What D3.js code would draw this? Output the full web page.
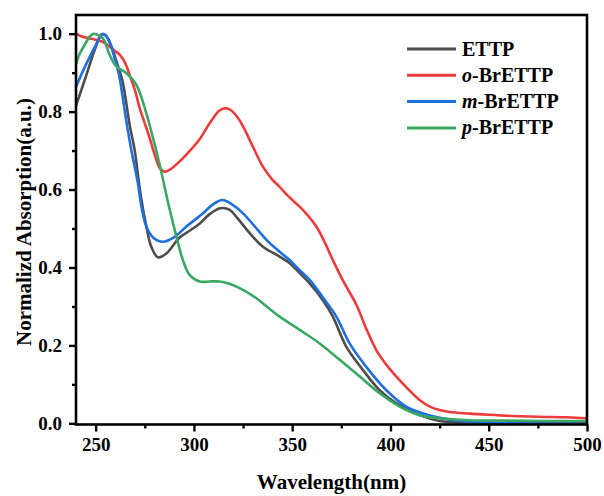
<!DOCTYPE html>
<html>
<head>
<meta charset="utf-8">
<script src="https://cdn.jsdelivr.net/npm/d3@7"></script>
<style>
  html, body { margin: 0; padding: 0; background: #fff; }
  svg { display: block; }
  text { font-family: "Liberation Serif", "Times New Roman", serif; }
</style>
</head>
<body>
<script>
// ---------- data ----------
const seriesNames = ["ETTP", "o-BrETTP", "m-BrETTP", "p-BrETTP"];
const seriesPrefix = ["", "o", "m", "p"];
const seriesRest = ["ETTP", "-BrETTP", "-BrETTP", "-BrETTP"];
const seriesColors = ["#4d4d4d", "#ec3c3c", "#1f6fdf", "#3aa865"];

const ettpWl = [240,245,250,253,255,258,260.5,263.6,265.5,267.3,269.9,271.5,273.3,275.8,278.3,281.7,286,292.7,298,303,308,313.5,318.2,321.6,328.4,335.1,343.6,348.7,353,358.9,365.6,370.7,377.5,386,394.5,403,414.8,425,440,460,480,500];
const ettpAbs = [0.815,0.89,0.965,0.998,0.996,0.968,0.93,0.88,0.825,0.766,0.70,0.638,0.573,0.505,0.453,0.426,0.436,0.477,0.495,0.513,0.537,0.552,0.548,0.530,0.488,0.453,0.428,0.411,0.39,0.359,0.316,0.274,0.197,0.137,0.085,0.051,0.021,0.006,0.002,0.001,0.0005,0.0];

const oWl = [240,243,247,250.4,254,257,260,262.2,265,267.3,270,272.4,275,277.5,280,282.6,285,288,292.7,298,303,308,313,316.2,319,322,325,330,335.1,340,343.6,348,353.8,358,362.3,366.5,370.7,376,382.6,387.5,392.8,398,403,409,414.8,420,425,430,440,450,462,475,490,500];
const oAbs = [1.0,0.993,0.988,0.984,0.978,0.967,0.955,0.946,0.925,0.894,0.855,0.809,0.77,0.732,0.69,0.655,0.646,0.652,0.672,0.70,0.73,0.77,0.803,0.809,0.803,0.787,0.762,0.71,0.659,0.625,0.607,0.583,0.556,0.533,0.505,0.465,0.419,0.365,0.305,0.245,0.188,0.15,0.12,0.088,0.060,0.043,0.034,0.029,0.025,0.022,0.019,0.017,0.0155,0.013];

const mWl = [240,245,250,253.4,256,259.7,261.9,265.9,268.2,271.5,273.3,275.8,279.2,284.3,290,296.2,304.6,310,314.5,319,325,331,336.9,343,348.7,353,358.9,366.5,372.5,379.2,387.7,397.9,408,415,425,440,460,480,500];
const mAbs = [0.864,0.92,0.97,0.999,0.99,0.937,0.894,0.766,0.70,0.616,0.556,0.505,0.477,0.466,0.478,0.505,0.539,0.563,0.573,0.563,0.539,0.505,0.471,0.443,0.419,0.397,0.368,0.317,0.274,0.205,0.145,0.085,0.043,0.028,0.014,0.004,0.0,-0.001,-0.002];

const pWl = [240,242,244.4,247,249,251,253.7,257.1,260.5,265.6,270.7,275,279.2,282.6,287.7,291.1,294.4,297.8,302.9,308,313,318,323.3,331.8,337,343.6,353.8,364,374.2,384.4,394.5,404.7,414.8,425,440,460,480,500];
const pAbs = [0.922,0.95,0.971,0.993,1.0,0.997,0.988,0.946,0.916,0.899,0.869,0.809,0.732,0.663,0.548,0.479,0.419,0.381,0.364,0.364,0.364,0.358,0.347,0.321,0.30,0.274,0.240,0.205,0.163,0.12,0.077,0.043,0.021,0.013,0.008,0.007,0.006,0.006];

const xMajorTicks = [250,300,350,400,450,500];
const xMinorTicks = [275,325,375,425,475];
const yMajorTicks = [0.0,0.2,0.4,0.6,0.8,1.0];
const yMinorTicks = [0.1,0.3,0.5,0.7,0.9];

const xTitle = "Wavelength(nm)";
const yTitle = "Normalizd Absorption(a.u.)";

// ---------- layout ----------
const W = 604, H = 496;
const plot = { left: 76, right: 587, top: 15, bottom: 424.5 };

const svg = d3.select("body").append("svg").attr("width", W).attr("height", H);

const x = d3.scaleLinear().domain([240, 500]).range([plot.left, plot.right]);
const y = d3.scaleLinear().domain([-0.003, 1.048]).range([plot.bottom, plot.top]);

svg.append("defs").append("clipPath").attr("id", "clip")
  .append("rect").attr("x", plot.left).attr("y", plot.top)
  .attr("width", plot.right - plot.left).attr("height", plot.bottom - plot.top);

// ---------- lines ----------
const series = [
  { wl: ettpWl, ab: ettpAbs },
  { wl: oWl, ab: oAbs },
  { wl: mWl, ab: mAbs },
  { wl: pWl, ab: pAbs }
];
const line = d3.line().x(d => x(d[0])).y(d => y(d[1])).curve(d3.curveCatmullRom.alpha(0.5));
const gLines = svg.append("g").attr("clip-path", "url(#clip)");
series.forEach((s, i) => {
  const pts = s.wl.map((w, k) => [w, s.ab[k]]);
  gLines.append("path").datum(pts)
    .attr("d", line)
    .attr("fill", "none")
    .attr("stroke", seriesColors[i])
    .attr("stroke-width", 2.6)
    .attr("stroke-linejoin", "round")
    .attr("stroke-linecap", "round");
});

// ---------- axes ----------
const fontTick = 19;
const xAxisMajor = d3.axisBottom(x).tickValues(xMajorTicks).tickFormat(d3.format("d")).tickSizeInner(7).tickSizeOuter(0).tickPadding(6);
const xAxisMinor = d3.axisBottom(x).tickValues(xMinorTicks).tickFormat("").tickSizeInner(4).tickSizeOuter(0);
const yAxisMajor = d3.axisLeft(y).tickValues(yMajorTicks).tickFormat(d3.format(".1f")).tickSizeInner(7).tickSizeOuter(0).tickPadding(7);
const yAxisMinor = d3.axisLeft(y).tickValues(yMinorTicks).tickFormat("").tickSizeInner(4).tickSizeOuter(0);

function styleAxis(g) {
  g.select(".domain").remove();
  g.selectAll(".tick line").attr("stroke", "#000").attr("stroke-width", 2.4);
  g.selectAll(".tick text")
    .attr("fill", "#000")
    .style("font-family", '"Liberation Serif", "Times New Roman", serif')
    .style("font-weight", "bold")
    .style("font-size", fontTick + "px");
}

svg.append("g").attr("transform", `translate(0,${plot.bottom})`).call(xAxisMajor).call(styleAxis);
svg.append("g").attr("transform", `translate(0,${plot.bottom})`).call(xAxisMinor).call(styleAxis);
svg.append("g").attr("transform", `translate(${plot.left},0)`).call(yAxisMajor).call(styleAxis);
svg.append("g").attr("transform", `translate(${plot.left},0)`).call(yAxisMinor).call(styleAxis);

// frame
svg.append("rect")
  .attr("x", plot.left).attr("y", plot.top)
  .attr("width", plot.right - plot.left).attr("height", plot.bottom - plot.top)
  .attr("fill", "none").attr("stroke", "#000").attr("stroke-width", 2.6);

// ---------- titles ----------
svg.append("text")
  .attr("x", (plot.left + plot.right) / 2).attr("y", 489)
  .attr("text-anchor", "middle")
  .style("font-weight", "bold").style("font-size", "21px")
  .text(xTitle);

svg.append("text")
  .attr("transform", `translate(31,222) rotate(-90)`)
  .attr("text-anchor", "middle")
  .style("font-weight", "bold").style("font-size", "21px")
  .text(yTitle);

// ---------- legend ----------
const legend = svg.append("g");
const legX0 = 407, legX1 = 456, legY0 = 49, legDy = 26.3;
seriesNames.forEach((name, i) => {
  const yy = legY0 + i * legDy;
  legend.append("line")
    .attr("x1", legX0).attr("x2", legX1).attr("y1", yy).attr("y2", yy)
    .attr("stroke", seriesColors[i]).attr("stroke-width", 3);
  const t = legend.append("text")
    .attr("x", legX1 + 6).attr("y", yy + 6.5)
    .style("font-size", "20px").style("font-weight", "bold");
  if (seriesPrefix[i]) {
    t.append("tspan").style("font-style", "italic").style("font-weight", "bold").text(seriesPrefix[i]);
  }
  t.append("tspan").text(seriesRest[i]);
});
</script>
</body>
</html>
